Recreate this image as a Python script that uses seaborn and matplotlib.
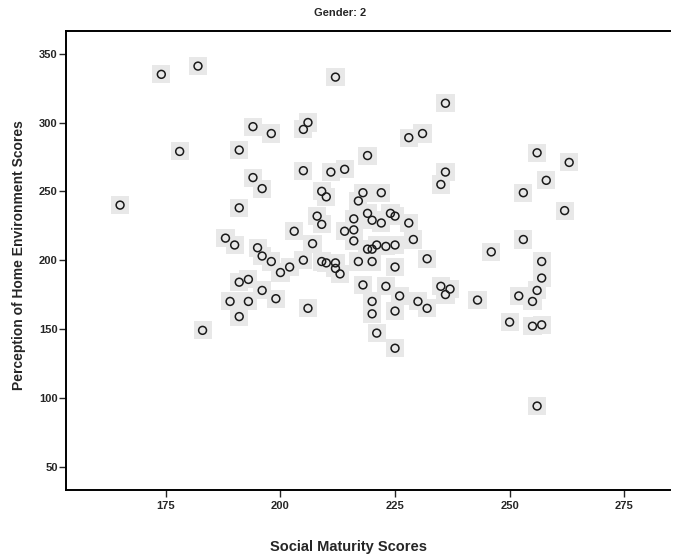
import matplotlib
matplotlib.use("Agg")
import matplotlib.pyplot as plt
import seaborn as sns
import pandas as pd

# Social maturity (x) vs perception of home environment (y), gender 2
social_maturity = [
    165, 174, 182, 178, 183, 188, 190, 189, 191, 191, 191, 193, 193, 191, 194,
    194, 195, 196, 196, 196, 198, 198, 199, 200, 202, 203, 205, 206, 205, 205,
    206, 207, 208, 209, 209, 210, 209, 210, 211, 212, 212, 212, 213, 214, 214,
    216, 216, 216, 217, 217, 218, 218, 219, 219, 219, 220, 220, 220, 220, 220,
    221, 221, 222, 222, 223, 223, 224, 225, 225, 225, 225, 225, 226, 228, 228,
    229, 230, 231, 232, 232, 235, 237, 236, 236, 236, 235, 243, 246, 250, 252,
    253, 253, 255, 255, 256, 256, 256, 257, 257, 257, 258, 262, 263,
]
home_env = [
    240, 335, 341, 279, 149, 216, 211, 170, 238, 280, 184, 186, 170, 159, 297,
    260, 209, 252, 203, 178, 292, 199, 172, 191, 195, 221, 295, 300, 265, 200,
    165, 212, 232, 226, 250, 246, 199, 198, 264, 333, 198, 194, 190, 266, 221,
    230, 222, 214, 243, 199, 249, 182, 276, 234, 208, 229, 208, 199, 170, 161,
    211, 147, 249, 227, 210, 181, 234, 232, 211, 195, 163, 136, 174, 289, 227,
    215, 170, 292, 201, 165, 181, 179, 175, 314, 264, 255, 171, 206, 155, 174,
    249, 215, 170, 152, 278, 178, 94, 199, 187, 153, 258, 236, 271,
]
x_ticks = [175, 200, 225, 250, 275]
y_ticks = [50, 100, 150, 200, 250, 300, 350]

df = pd.DataFrame({"Social Maturity Scores": social_maturity,
                   "Perception of Home Environment Scores": home_env})

sns.set_style("white")
plt.rcParams["font.family"] = ["Liberation Sans", "DejaVu Sans"]
plt.rcParams["font.weight"] = "bold"

fig = plt.figure(figsize=(6.75, 5.56), dpi=100)
ax = fig.add_axes([66 / 675, 1 - 490 / 556, (670 - 66) / 675, (490 - 31) / 556])

# light grey halo behind each marker, like the original export
sns.scatterplot(data=df, x="Social Maturity Scores", y="Perception of Home Environment Scores",
                marker="s", s=170, color="#e8e8e8", edgecolor="none", ax=ax, zorder=1)
sns.scatterplot(data=df, x="Social Maturity Scores", y="Perception of Home Environment Scores",
                marker="o", s=32, facecolor="none", edgecolor="#1a1a1a", linewidth=1.1,
                ax=ax, zorder=2)

ax.set_xlim(153.2, 285)
ax.set_ylim(33, 366.5)
ax.set_xticks(x_ticks)
ax.set_yticks(y_ticks)
ax.tick_params(axis="both", direction="out", length=5, width=1, labelsize=8,
               bottom=True, left=True)
ax.tick_params(axis="x", pad=3)
ax.tick_params(axis="y", pad=1)
for lab in ax.get_xticklabels() + ax.get_yticklabels():
    lab.set_fontweight("bold")

for side in ["left", "bottom", "top"]:
    ax.spines[side].set_linewidth(1.4)
    ax.spines[side].set_color("black")
ax.spines["right"].set_visible(False)

ax.set_xlabel("Social Maturity Scores", fontsize=10.5, fontweight="bold")
ax.xaxis.set_label_coords((349 - 66) / 604, -0.108)
ax.set_ylabel("Perception of Home Environment Scores", fontsize=10, fontweight="bold")
ax.yaxis.set_label_coords(-0.066, (490 - 255) / 459)
fig.text(340 / 675, 1 - 13 / 556, "Gender: 2", fontsize=8, fontweight="bold",
         ha="center", va="center")

fig.savefig("out.png", dpi=100)
